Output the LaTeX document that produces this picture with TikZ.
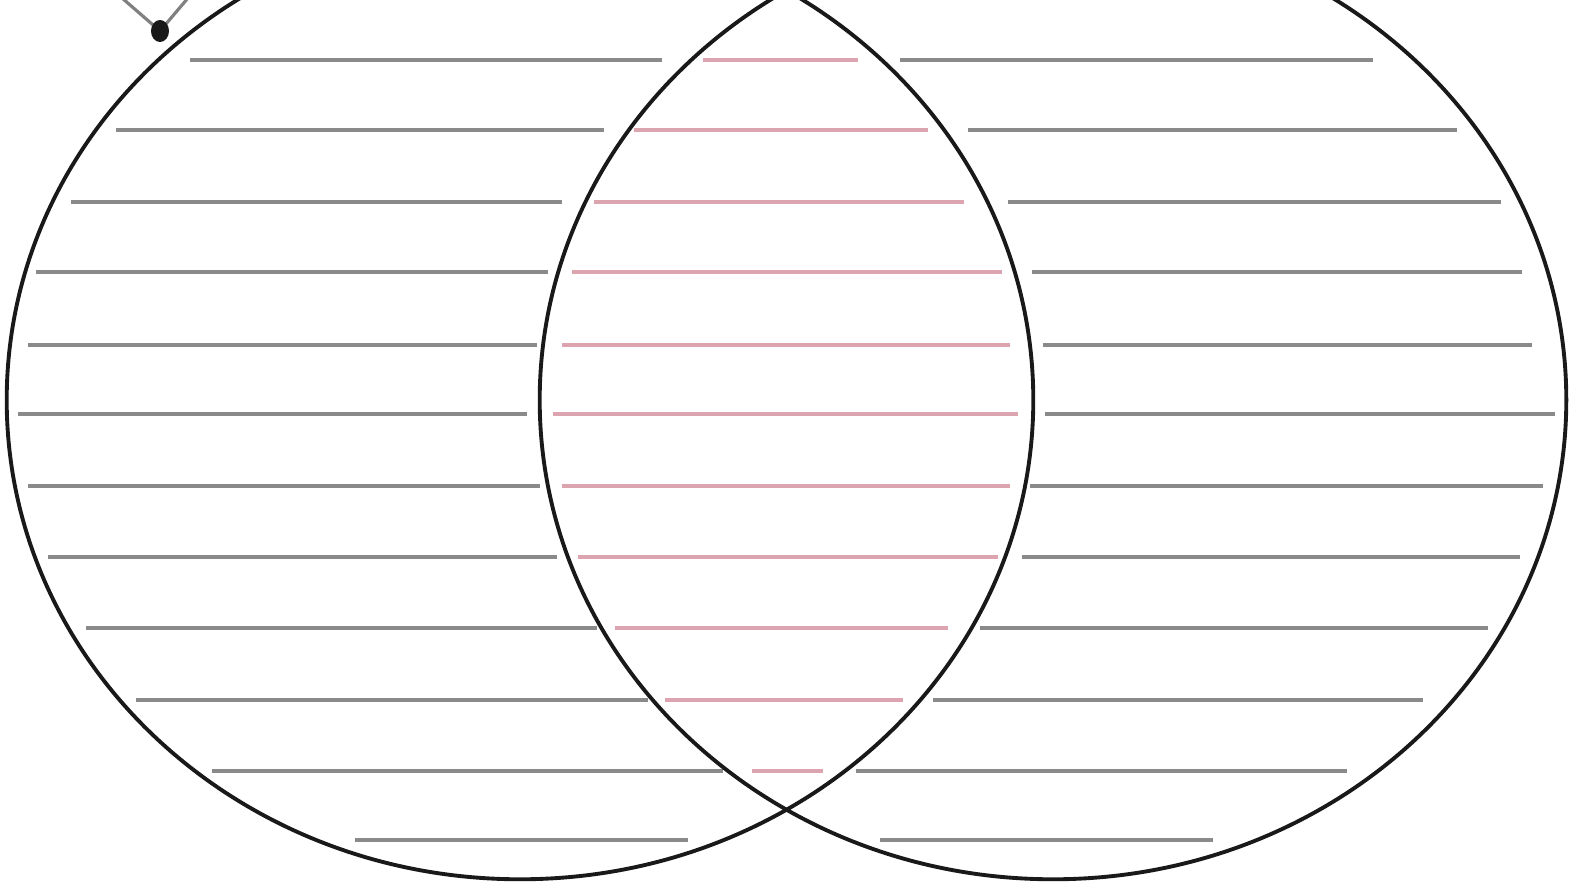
\documentclass[tikz,border=0pt]{standalone}
\usepackage{tikz}

\definecolor{rulegrey}{HTML}{8A8A8A}
\definecolor{rulepink}{HTML}{DCA4AE}

\tikzset{
  setline/.style={line width=1.1pt, draw=black!90},
  ruling/.style={line width=1.1pt, draw=rulegrey},
  lensruling/.style={line width=1.1pt, draw=rulepink}
}

\begin{document}
\begin{tikzpicture}[x=0.01cm,y=-0.01cm]
		\useasboundingbox (0,0) rectangle (1573,888);
		\clip (0,0) rectangle (1573,888);
		\fill[white] (0,0) rectangle (1573,888);
		
		% ruled lines: y / left set / lens / right set
		\foreach \y/\la/\lb/\ma/\mb/\ra/\rb in {
			60/190/662/703/858/900/1373,
			130/116/604/634/928/968/1457,
			202/71/562/594/964/1008/1501,
			272/36/548/572/1002/1032/1522,
			345/28/537/562/1010/1043/1532,
			414/18/527/553/1018/1045/1555,
			486/28/540/562/1010/1030/1543,
			557/48/557/578/998/1022/1520,
			628/86/597/615/948/980/1488,
			700/136/648/665/903/933/1423,
			771/212/723/752/823/856/1347}{
			\draw[ruling] (\la,\y) -- (\lb,\y);
			\draw[lensruling] (\ma,\y) -- (\mb,\y);
			\draw[ruling] (\ra,\y) -- (\rb,\y);
		}
		\draw[ruling] (355,840) -- (688,840);
		\draw[ruling] (880,840) -- (1213,840);
		
		% the two sets
		\coordinate (A) at (520,400);
		\coordinate (B) at (1053,400);
		\draw[setline] (A) ellipse [x radius=5.13cm, y radius=4.79cm];
		\draw[setline] (B) ellipse [x radius=5.13cm, y radius=4.79cm];
		
		% pin at top left
		\coordinate (Pin) at (160,31);
		\draw[line width=0.9pt, draw=black!50] (Pin) -- (122,-2);
		\draw[line width=0.9pt, draw=black!50] (Pin) -- (188,-2);
		\fill[black!90] (Pin) ellipse [x radius=0.09cm, y radius=0.11cm];
	\end{tikzpicture}
\end{document}
